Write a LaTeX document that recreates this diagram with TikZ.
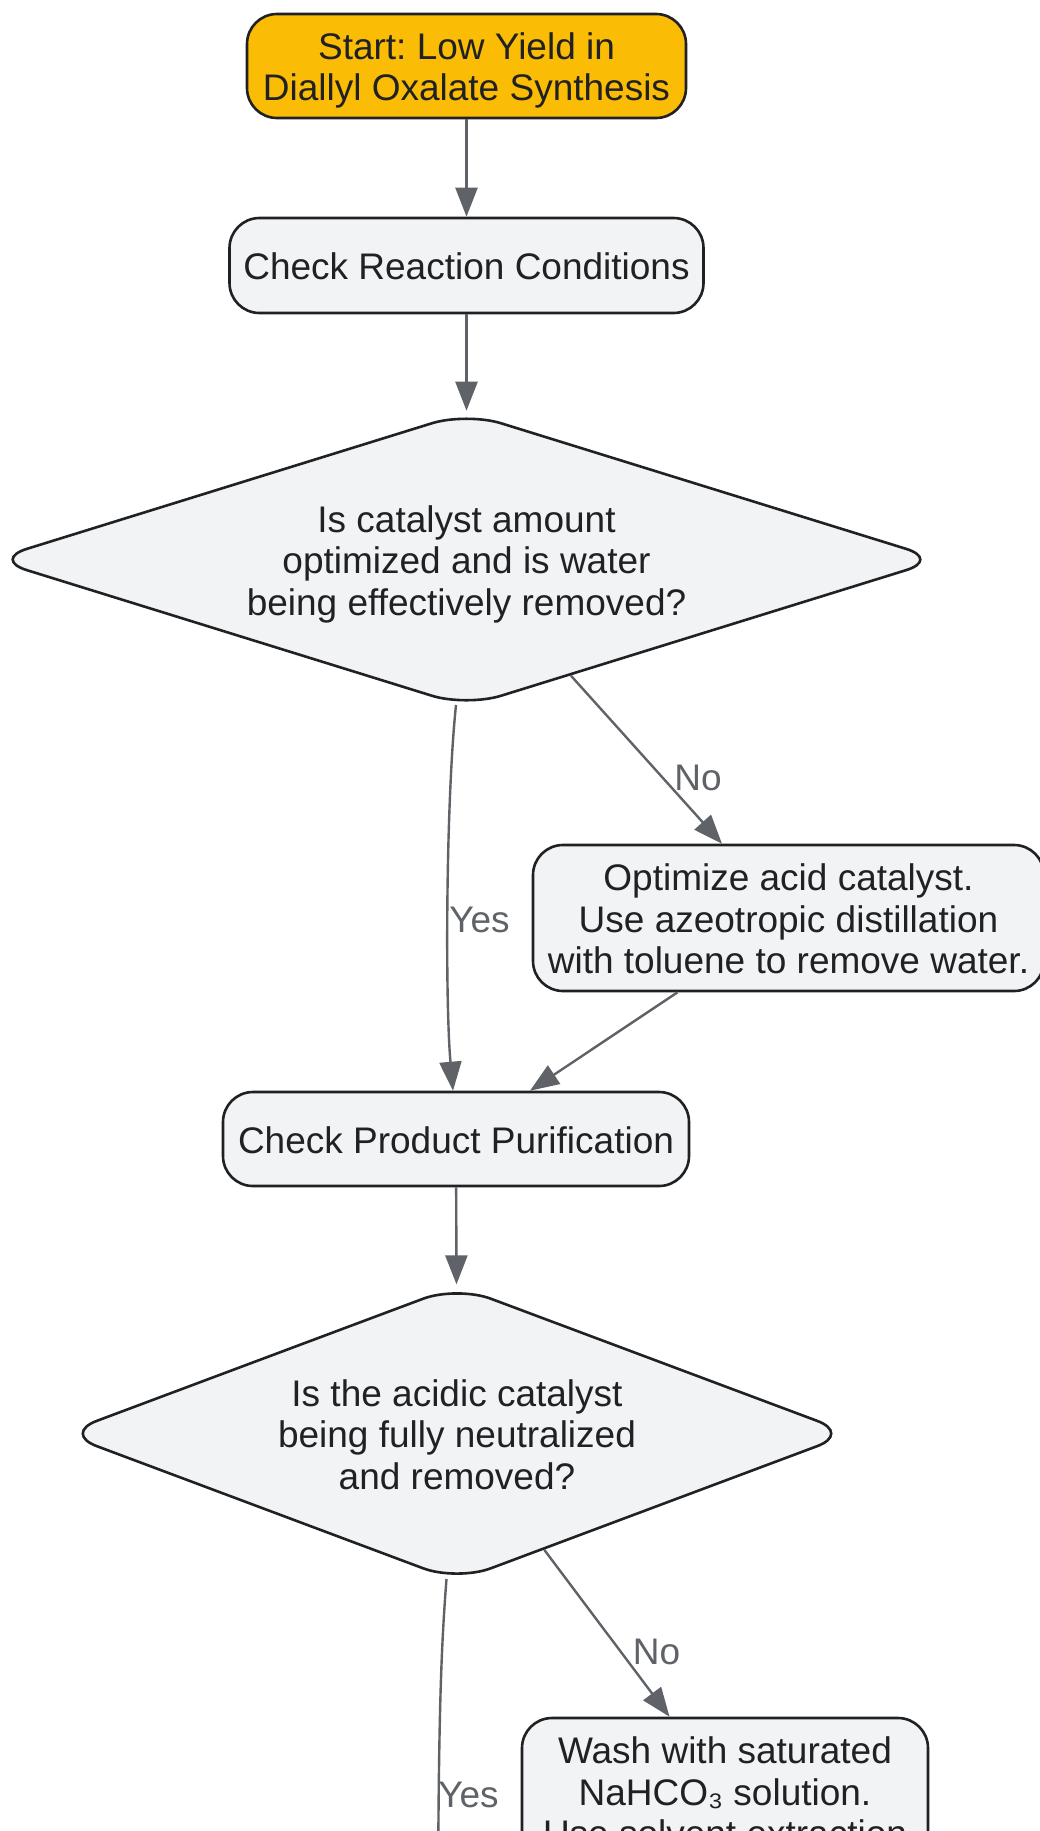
\documentclass[tikz,border=0pt]{standalone}
\usepackage{fontspec}
\setmainfont{Liberation Sans}
\usetikzlibrary{shapes.geometric,arrows.meta,calc}
\definecolor{startfill}{HTML}{FBBC05}
\definecolor{boxfill}{HTML}{F1F3F4}
\definecolor{boxline}{HTML}{202124}
\definecolor{edgecol}{HTML}{5F6368}
\definecolor{txtcol}{HTML}{202124}
\newcommand\topstrut{\rule{0pt}{38.4pt}}
\newcommand\botstrut{\rule[-10pt]{0pt}{10pt}}
\frenchspacing
\begin{document}
\frenchspacing
\begin{tikzpicture}[x=1pt,y=-1pt,
 every node/.style={font=\fontsize{37}{41.5}\selectfont\frenchspacing, text=txtcol},
 box/.style={draw=boxline, line width=2.6pt, fill=boxfill, rounded corners=30pt, align=center, inner sep=0pt},
 startbox/.style={box, fill=startfill},
 decision/.style={diamond, draw=boxline, line width=2.6pt, fill=boxfill, rounded corners=36pt, align=center, inner sep=0pt},
 edge/.style={draw=edgecol, line width=2.4pt, -{Triangle[length=29pt,width=22pt]}},
 plainedge/.style={draw=edgecol, line width=2.4pt},
 lbl/.style={text=edgecol, inner sep=0pt}]
\clip (0,0) rectangle (1040,1831);
\fill[white] (0,0) rectangle (1040,1831);

\node[startbox, minimum width=439pt, minimum height=104pt] (start) at (466.5,66) {\topstrut Start: Low Yield in\\Diallyl Oxalate Synthesis\botstrut};
\node[box, minimum width=474pt, minimum height=95pt] (chk1) at (466.5,265.5) {\topstrut Check Reaction Conditions\botstrut};
\node[decision, minimum width=949pt, minimum height=295pt, aspect=3.2] (d1) at (466.5,559.5) {\topstrut Is catalyst amount\\optimized and is water\\being effectively removed?\botstrut};
\node[box, minimum width=511pt, minimum height=146pt] (opt) at (788.5,918) {\topstrut Optimize acid catalyst.\\Use azeotropic distillation\\with toluene to remove water.\botstrut};
\node[box, minimum width=466pt, minimum height=94pt] (chk2) at (456,1139) {\topstrut Check Product Purification\botstrut};
\node[decision, minimum width=789pt, minimum height=296pt, aspect=2.67] (d2) at (457,1433.5) {\topstrut Is the acidic catalyst\\being fully neutralized\\and removed?\botstrut};
\node[box, minimum width=406pt, minimum height=146pt] (wash) at (725,1791) {\topstrut Wash with saturated\\NaHCO₃ solution.\\Use solvent extraction\botstrut};
\coordinate (yesend) at (438,1960);

\draw[edge] (start) -- (chk1);
\draw[edge] (chk1) -- (d1);
\draw[edge] (d1) -- ([xshift=-66.5pt]opt.north);
\draw[edge] ([xshift=-10.5pt,yshift=3.3pt]d1.south) .. controls (446,800) and (445,1000) .. ([xshift=-3pt]chk2.north);
\draw[edge] ([xshift=-111pt]opt.south) -- ([xshift=74pt]chk2.north);
\draw[edge] (chk2) -- (d2);
\draw[edge] (d2) -- ([xshift=-55.5pt]wash.north);
\draw[plainedge] ([xshift=-10.5pt,yshift=3.9pt]d2.south) .. controls (441,1650) and (438,1720) .. (yesend);

\node[lbl] (lyes1) at (479.5,919.5) {Yes};
\node[lbl] (lno1) at (698,778) {No};
\node[lbl] (lno2) at (656.5,1651.5) {No};
\node[lbl] (lyes2) at (468.5,1795) {Yes};
\end{tikzpicture}
\end{document}
